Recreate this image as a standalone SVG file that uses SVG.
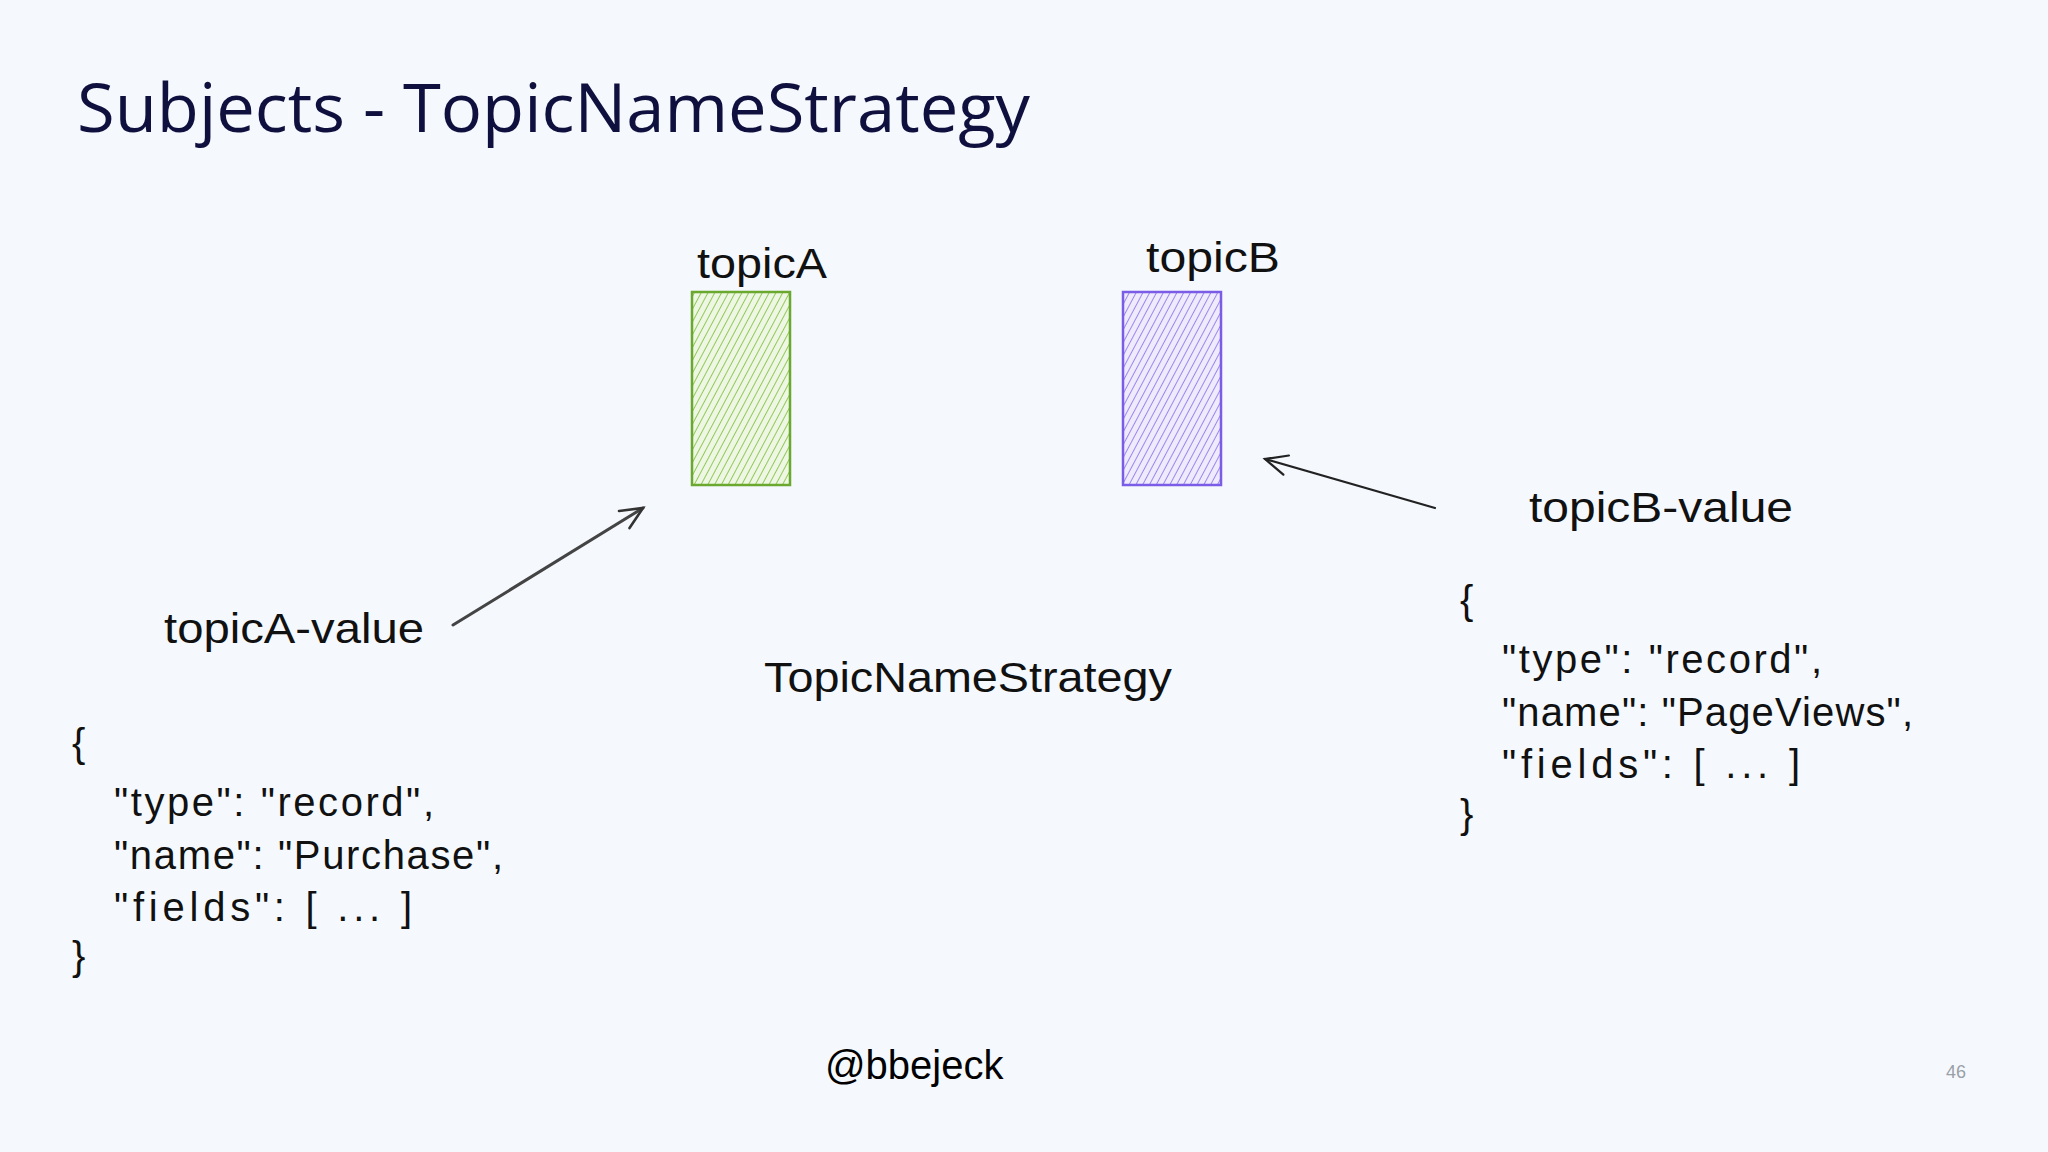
<svg xmlns="http://www.w3.org/2000/svg" width="2048" height="1152" viewBox="0 0 2048 1152">
<defs>
<style>
.hand{font-family:"Liberation Sans","DejaVu Sans",sans-serif;fill:#111;}
.json{font-family:"Liberation Sans","DejaVu Sans",sans-serif;fill:#111;font-size:40px;}
.conn{fill:none;stroke-linecap:round;stroke-linejoin:round;}
</style>
<pattern id="hatchG" width="6" height="6" patternUnits="userSpaceOnUse" patternTransform="rotate(28)">
<rect width="6" height="6" fill="#eef7e4"/>
<line x1="0" y1="0" x2="0" y2="6" stroke="#93c85a" stroke-width="2"/>
</pattern>
<pattern id="hatchP" width="6" height="6" patternUnits="userSpaceOnUse" patternTransform="rotate(28)">
<rect width="6" height="6" fill="#efebfc"/>
<line x1="0" y1="0" x2="0" y2="6" stroke="#9b87ee" stroke-width="2"/>
</pattern>
<marker id="arrA" markerWidth="30" markerHeight="30" refX="24" refY="12" orient="auto" markerUnits="userSpaceOnUse">
<path d="M2,2 L24,12 L2,22" fill="none" stroke="#333" stroke-width="2.6" stroke-linecap="round"/>
</marker>
<marker id="arrB" markerWidth="30" markerHeight="30" refX="24" refY="12" orient="auto" markerUnits="userSpaceOnUse">
<path d="M2,2 L24,12 L2,22" fill="none" stroke="#222" stroke-width="2.2" stroke-linecap="round"/>
</marker>
</defs>
<rect width="2048" height="1152" fill="#f5f9fe"/>
<text id="title" x="77" y="132" font-family="Open Sans, Lato, sans-serif" font-size="68" fill="#10103f" textLength="953" lengthAdjust="spacingAndGlyphs">Subjects - TopicNameStrategy</text>

<g id="topicA">
<rect x="692" y="292" width="98" height="193" fill="url(#hatchG)" stroke="#6aa82e" stroke-width="2.5"/>
<text class="hand" x="697" y="278" font-size="42" textLength="130" lengthAdjust="spacingAndGlyphs">topicA</text>
</g>
<g id="topicB">
<rect x="1123" y="292" width="98" height="193" fill="url(#hatchP)" stroke="#7a5ce6" stroke-width="2.5"/>
<text class="hand" x="1146" y="272" font-size="42" textLength="134" lengthAdjust="spacingAndGlyphs">topicB</text>
</g>
<g id="topicA-value">
<text class="hand" x="164" y="643" font-size="42" textLength="260" lengthAdjust="spacingAndGlyphs">topicA-value</text>
</g>
<g id="topicB-value">
<text class="hand" x="1529" y="522" font-size="42" textLength="264" lengthAdjust="spacingAndGlyphs">topicB-value</text>
</g>
<g id="strategy">
<text class="hand" x="764" y="692" font-size="42" textLength="408" lengthAdjust="spacingAndGlyphs">TopicNameStrategy</text>
</g>
<g id="schemaA">
<text class="json" x="72" y="757">{</text>
<text class="json" x="114" y="816" textLength="320" lengthAdjust="spacing">"type": "record",</text>
<text class="json" x="114" y="869" textLength="389" lengthAdjust="spacing">"name": "Purchase",</text>
<text class="json" x="114" y="921" textLength="298" lengthAdjust="spacing">"fields": [ ... ]</text>
<text class="json" x="72" y="970">}</text>
</g>
<g id="schemaB">
<text class="json" x="1460" y="614">{</text>
<text class="json" x="1502" y="673" textLength="320" lengthAdjust="spacing">"type": "record",</text>
<text class="json" x="1502" y="726" textLength="411" lengthAdjust="spacing">"name": "PageViews",</text>
<text class="json" x="1502" y="778" textLength="298" lengthAdjust="spacing">"fields": [ ... ]</text>
<text class="json" x="1460" y="828">}</text>
</g>
<g id="connectors">
<path class="conn" d="M453,625 L643,508" stroke="#444" stroke-width="3" marker-end="url(#arrA)"/>
<path class="conn" d="M1435,508 L1265,459" stroke="#222" stroke-width="2.2" marker-end="url(#arrB)"/>
</g>
<text id="handle" x="825" y="1079" font-family="Liberation Sans, Arial, sans-serif" font-size="40" fill="#000">@bbejeck</text>
<text id="page" x="1946" y="1078" font-family="Liberation Sans, Arial, sans-serif" font-size="18" fill="#9aa0a6">46</text>
</svg>
